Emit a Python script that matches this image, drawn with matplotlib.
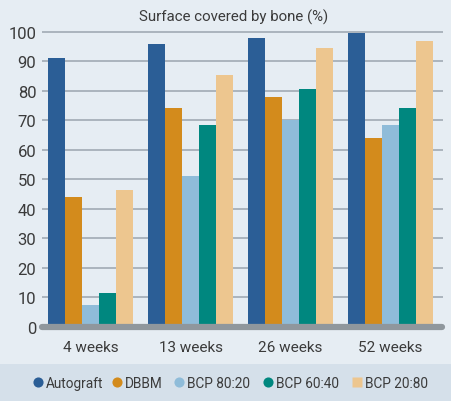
import matplotlib
matplotlib.use('Agg')
import matplotlib.pyplot as plt
from matplotlib.patches import Rectangle
import numpy as np

plt.rcParams['font.family'] = ['Roboto', 'DejaVu Sans']

# data
groups = ['4 weeks', '13 weeks', '26 weeks', '52 weeks']
series = ['Autograft', 'DBBM', 'BCP 80:20', 'BCP 60:40', 'BCP 20:80']
autograft = [91, 96, 98, 99.5]
dbbm = [44, 74, 78, 64]
bcp_80_20 = [7.5, 51, 70, 68.5]
bcp_60_40 = [11.5, 68.5, 80.5, 74]
bcp_20_80 = [46.5, 85.5, 94.5, 97]
yticks = [0, 10, 20, 30, 40, 50, 60, 70, 80, 90, 100]

colors = ['#2b5e96', '#d38b1c', '#8fbcd9', '#00877f', '#edc68f']
bg = '#e6edf3'
band = '#d5e0ea'
text_col = '#3b3b3b'

W, H = 452, 402
fig = plt.figure(figsize=(W / 100, H / 100), dpi=100, facecolor=bg)
fig.patches.append(Rectangle((0, 0), 1, 0.092, transform=fig.transFigure,
                             facecolor=band, edgecolor='none', zorder=0))

ax = fig.add_axes([0.093, 0.184, 0.887, 0.742])
ax.set_facecolor(bg)

x = np.arange(len(groups))
w = 0.17
values = [autograft, dbbm, bcp_80_20, bcp_60_40, bcp_20_80]
for i, vals in enumerate(values):
    ax.bar(x + (i - 2) * w, vals, width=w, color=colors[i], zorder=3)

ax.set_xlim(-0.485, 3.525)
ax.set_ylim(0, 101)
for t in yticks[1:]:
    ax.axhline(t, color='#9ba5ae', lw=1.1, zorder=1)
ax.plot([-0.49, 3.52], [0, 0], color='#8f979d', lw=4.5,
        solid_capstyle='round', zorder=4, clip_on=False)

ax.set_yticks(yticks)
ax.set_xticks(x)
ax.set_xticklabels(groups)
ax.tick_params(length=0, colors=text_col)
ax.tick_params(axis='x', pad=9, labelsize=11)
ax.tick_params(axis='y', pad=4, labelsize=12)
for s in ax.spines.values():
    s.set_visible(False)

fig.text(0.516, 0.975, 'Surface covered by bone (%)', ha='center', va='top',
         fontsize=10.8, color=text_col)

# legend laid out by hand in the bottom band
markers = ['o', 'o', 'o', 'o', 's']
marker_x = [38, 117, 179, 268, 357]
legend_y = 1 - 383 / H
for i, name in enumerate(series):
    mx = marker_x[i] / W
    fig.lines.append(plt.Line2D([mx], [legend_y], transform=fig.transFigure,
                                marker=markers[i], ls='none', markersize=7.3,
                                markerfacecolor=colors[i], markeredgecolor='none'))
    fig.text(mx + 8 / W, legend_y, name, ha='left', va='center_baseline',
             fontsize=9.8, color=text_col)

fig.savefig('out.png', dpi=100, facecolor=bg)
